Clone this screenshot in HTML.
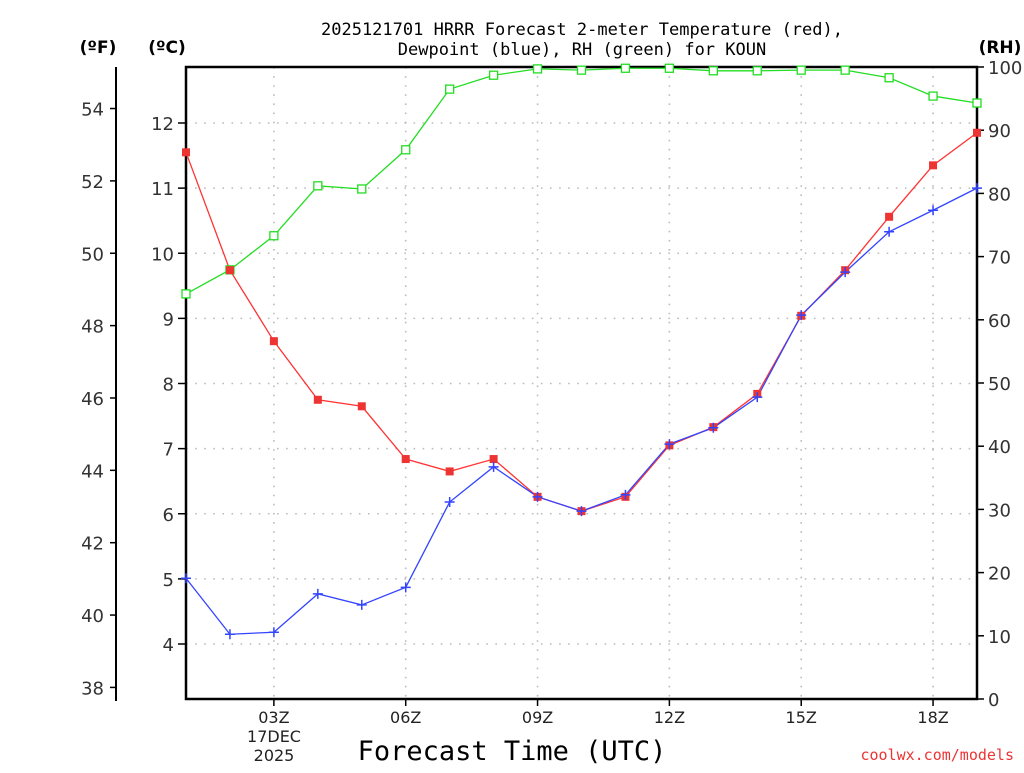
<!DOCTYPE html>
<html><head><meta charset="utf-8"><style>
body{margin:0;background:#fff;}
</style></head><body>
<svg id="chart" width="1024" height="768" xmlns="http://www.w3.org/2000/svg" font-family="DejaVu Sans, Liberation Sans, sans-serif">
<g id="grid"></g>
<g id="axes"></g>
<g id="series"></g>
<text x="582" y="35" text-anchor="middle" font-size="17" font-family="DejaVu Sans Mono, Liberation Mono, monospace">2025121701 HRRR Forecast 2-meter Temperature (red),</text>
<text x="582" y="55" text-anchor="middle" font-size="17" font-family="DejaVu Sans Mono, Liberation Mono, monospace">Dewpoint (blue), RH (green) for KOUN</text>
<text x="98" y="53" text-anchor="middle" font-size="17" font-weight="bold">(ºF)</text>
<text x="167" y="53" text-anchor="middle" font-size="17" font-weight="bold">(ºC)</text>
<text x="1000" y="53" text-anchor="middle" font-size="17" font-weight="bold">(RH)</text>
<text x="512" y="760" text-anchor="middle" font-size="27" font-family="DejaVu Sans Mono, Liberation Mono, monospace">Forecast Time (UTC)</text>
<text x="274" y="742" text-anchor="middle" font-size="16" fill="#222">17DEC</text>
<text x="274" y="761" text-anchor="middle" font-size="16" fill="#222">2025</text>
<text x="1014" y="760" text-anchor="end" font-size="15" fill="#ee3333" font-family="DejaVu Sans Mono, monospace">coolwx.com/models</text>
</svg>
<script>
const hours=[1,2,3,4,5,6,7,8,9,10,11,12,13,14,15,16,17,18,19];
const tempC=[11.55,9.74,8.65,7.75,7.65,6.84,6.65,6.84,6.26,6.04,6.26,7.05,7.33,7.84,9.04,9.74,10.56,11.35,11.85];
const dewC=[5.01,4.15,4.18,4.77,4.60,4.87,6.18,6.72,6.26,6.04,6.29,7.07,7.32,7.79,9.05,9.71,10.33,10.66,11.0];
const rh=[64.1,67.9,73.3,81.2,80.7,86.9,96.5,98.7,99.7,99.5,99.8,99.8,99.4,99.4,99.5,99.5,98.3,95.4,94.3];
const xTicks=[3,6,9,12,15,18];
const xTickLabels=["03Z","06Z","09Z","12Z","15Z","18Z"];
const cTicks=[4,5,6,7,8,9,10,11,12];
const fTicks=[38,40,42,44,46,48,50,52,54];
const rhTicks=[0,10,20,30,40,50,60,70,80,90,100];

const NS="http://www.w3.org/2000/svg";
const L=186,R=977,T=67,B=699;
const xs=h=>L+(h-1)*(R-L)/18;
const yC=c=>123+(12-c)*65.125;
const yF=f=>yC((f-32)*5/9);
const yRH=v=>B-v*(B-T)/100;
function mk(p,tag,a){const e=document.createElementNS(NS,tag);for(const k in a)e.setAttribute(k,a[k]);p.appendChild(e);return e;}
const grid=document.getElementById('grid'),axes=document.getElementById('axes'),ser=document.getElementById('series');
const dot={stroke:"#bbb","stroke-width":1.6,"stroke-dasharray":"1.6,7.5"};
cTicks.forEach(c=>{const y=yC(c);
 const g=mk(grid,'line',Object.assign({x1:L,x2:R,y1:y,y2:y},dot));
 
 
 const t=mk(axes,'line',{x1:L-8,x2:L,y1:y,y2:y,stroke:"#000","stroke-width":1.5});
 
 
 const tx=mk(axes,'text',{x:L-12,y:y+7,"text-anchor":"end","font-size":18,fill:"#333"});tx.textContent=c;
 
 
});
xTicks.forEach((h,i)=>{const x=xs(h);
 const g=mk(grid,'line',Object.assign({x1:x,x2:x,y1:T,y2:B},dot));
 
 
 const t=mk(axes,'line',{x1:x,x2:x,y1:B,y2:B+7,stroke:"#000","stroke-width":1.5});
 
 
 const tx=mk(axes,'text',{x:x,y:B+24,"text-anchor":"middle","font-size":16,fill:"#222"});tx.textContent=xTickLabels[i];
 
 
});
const fl=mk(axes,'line',{x1:116,x2:116,y1:T,y2:B+2,stroke:"#000","stroke-width":2});


fTicks.forEach(f=>{const y=yF(f);
 const t=mk(axes,'line',{x1:110,x2:116,y1:y,y2:y,stroke:"#000","stroke-width":1.5});
 
 
 const tx=mk(axes,'text',{x:104,y:y+7,"text-anchor":"end","font-size":18,fill:"#333"});tx.textContent=f;
 
 
});
rhTicks.forEach(v=>{const y=yRH(v);
 const t=mk(axes,'line',{x1:R,x2:R+7,y1:y,y2:y,stroke:"#000","stroke-width":1.5});
 
 
 const tx=mk(axes,'text',{x:R+11,y:y+7,"font-size":18,fill:"#333"});tx.textContent=v;
 
 
});
const fr=mk(axes,'rect',{x:L,y:T,width:R-L,height:B-T,fill:"none",stroke:"#000","stroke-width":2.5});



function line(vals,yf,color,name){
 const pl=mk(ser,'polyline',{points:vals.map((v,i)=>xs(hours[i])+','+yf(v)).join(' '),fill:"none",stroke:color,"stroke-width":1.3});
 
 
}
line(rh,yRH,"#22dd22","rh");
line(tempC,yC,"#ff3333","temperature");
line(dewC,yC,"#3344ff","dewpoint");
rh.forEach((v,i)=>{const m=mk(ser,'rect',{x:xs(hours[i])-4,y:yRH(v)-4,width:8,height:8,fill:"#fff",stroke:"#22dd22","stroke-width":1.3});
 
 });
tempC.forEach((v,i)=>{const m=mk(ser,'rect',{x:xs(hours[i])-4,y:yC(v)-4,width:8,height:8,fill:"#ee3333"});
 
 });
dewC.forEach((v,i)=>{const x=xs(hours[i]),y=yC(v);
 const m=mk(ser,'path',{d:`M${x-5},${y}H${x+5}M${x},${y-5}V${y+5}`,stroke:"#3344ff","stroke-width":1.5});
 
 });
</script>
</body></html>
